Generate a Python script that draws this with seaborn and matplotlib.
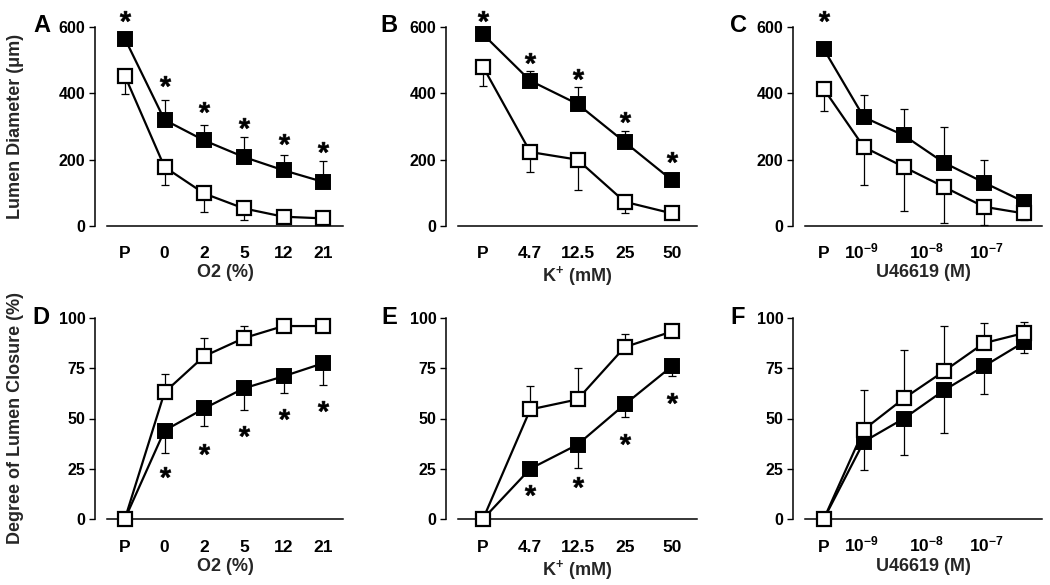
import numpy as np
import pandas as pd
import matplotlib
matplotlib.use("Agg")
import matplotlib.pyplot as plt
import matplotlib.transforms as mtransforms
import seaborn as sns

# ---------------- data ----------------
o2_labels = ["P", "0", "2", "5", "12", "21"]
k_labels = ["P", "4.7", "12.5", "25", "50"]
u_labels = ["P", r"$\mathbf{10^{-9}}$", r"$\mathbf{10^{-8}}$", r"$\mathbf{10^{-7}}$"]
u_label_pos = [0, 0.93, 2.57, 4.07]

# Lumen diameter (um)
a_filled = [565, 320, 258, 208, 168, 133]
a_filled_err = [10, 60, 47, 60, 45, 62]
a_open = [453, 178, 98, 53, 28, 23]
a_open_err = [55, 53, 55, 35, 10, 5]
a_stars = [633, 438, 358, 310, 263, 238]

b_filled = [578, 438, 368, 253, 138]
b_filled_err = [10, 28, 52, 33, 10]
b_open = [480, 223, 200, 73, 38]
b_open_err = [57, 60, 90, 35, 8]
b_stars = [633, 506, 458, 330, 208]

c_filled = [533, 328, 273, 191, 131, 73]
c_filled_err = [10, 67, 80, 109, 69, 10]
c_open = [413, 238, 178, 118, 58, 38]
c_open_err = [67, 115, 132, 108, 55, 20]
c_stars = [633]

# Degree of lumen closure (%)
d_open = [0, 63, 81, 90, 96, 96]
d_open_err = [0, 9, 9, 6, 1, 1]
d_filled = [0, 44, 55, 65, 71, 77.5]
d_filled_err = [0, 11, 8.5, 11, 8.5, 11]
d_stars = [None, 23.5, 35, 44, 52, 56]

e_open = [0, 54.5, 59.5, 85.5, 93.3]
e_open_err = [0, 11.5, 15.5, 6.3, 1]
e_filled = [0, 25, 37, 57, 76]
e_filled_err = [0, 2, 11.5, 6.5, 5]
e_stars = [None, 14.4, 18.6, 40, 60.4]

f_open = [0, 44.5, 60, 73.5, 87.5, 92.5]
f_open_err = [0, 19.5, 24, 22.5, 10, 5.5]
f_filled = [0, 38.5, 50, 64, 76, 88]
f_filled_err = [0, 14, 18, 21, 14, 5.5]

# ---------------- style ----------------
sns.set_style("ticks")
plt.rcParams["font.family"] = ["Liberation Sans", "DejaVu Sans"]
plt.rcParams["font.weight"] = "bold"
plt.rcParams["mathtext.fontset"] = "custom"
plt.rcParams["mathtext.rm"] = "Liberation Sans:bold"
plt.rcParams["mathtext.bf"] = "Liberation Sans:bold"
plt.rcParams["mathtext.it"] = "Liberation Sans:bold"

W, H = 1050, 585
fig = plt.figure(figsize=(W / 100, H / 100), dpi=100)


def make_ax(left, right, top, bottom):
    return fig.add_axes([left / W, 1 - bottom / H, (right - left) / W, (bottom - top) / H])


def draw(ax, ticklabels, filled, filled_err, opn, open_err, stars, ylim, yticks,
         xlim, up_filled, tickpos=None, xlabel="", ylabel=None):
    n = len(filled)
    x = np.arange(n)
    if up_filled:
        f_err = [np.zeros(n), filled_err]
        o_err = [open_err, np.zeros(n)]
    else:
        f_err = [filled_err, np.zeros(n)]
        o_err = [np.zeros(n), open_err]
    ax.errorbar(x, filled, yerr=f_err, fmt="none", ecolor="black", elinewidth=0.9,
                capsize=3.2, capthick=0.9, zorder=2, clip_on=False)
    ax.errorbar(x, opn, yerr=o_err, fmt="none", ecolor="black", elinewidth=0.9,
                capsize=3.2, capthick=0.9, zorder=4, clip_on=False)
    df_f = pd.DataFrame({"x": x, "y": filled})
    df_o = pd.DataFrame({"x": x, "y": opn})
    sns.lineplot(data=df_f, x="x", y="y", ax=ax, color="black", linewidth=1.6,
                 marker="s", markersize=10, markerfacecolor="black",
                 markeredgecolor="black", markeredgewidth=1.4, zorder=3, clip_on=False)
    sns.lineplot(data=df_o, x="x", y="y", ax=ax, color="black", linewidth=1.6,
                 marker="s", markersize=10, markerfacecolor="white",
                 markeredgecolor="black", markeredgewidth=1.6, zorder=5, clip_on=False)
    if stars:
        sx = [i for i, s in enumerate(stars) if s is not None]
        sy = [s for s in stars if s is not None]
        ax.plot(sx, sy, linestyle="none", marker=r"$\mathbf{*}$", markersize=8,
                color="black", markeredgewidth=0.4, clip_on=False, zorder=6)
    ax.set_xlim(*xlim)
    ax.set_ylim(*ylim)
    ax.set_yticks(yticks)
    ax.set_yticklabels([str(t) for t in yticks])
    if tickpos is None:
        tickpos = list(range(len(ticklabels)))
    ax.set_xticks([])
    trans = mtransforms.blended_transform_factory(ax.transData, ax.transAxes)
    for pos, lab in zip(tickpos, ticklabels):
        ax.text(pos, -0.162, lab, transform=trans, ha="center", va="baseline",
                fontsize=12.5, fontweight="bold", color="black")
    sns.despine(ax=ax)
    ax.spines["left"].set_position(("outward", 8.6))
    for s in ("left", "bottom"):
        ax.spines[s].set_linewidth(1.1)
        ax.spines[s].set_color("black")
    ax.tick_params(axis="y", length=4, width=1.0, pad=3, labelsize=11.5, colors="black")
    for lab in ax.get_yticklabels():
        lab.set_fontweight("bold")
    ax.set_xlabel(xlabel, fontsize=13, fontweight="bold")
    ax.xaxis.set_label_coords(0.5, -0.192)
    if ylabel:
        ax.set_ylabel(ylabel, fontsize=13, fontweight="bold")
        ax.yaxis.set_label_coords(-0.35, 0.5)
    else:
        ax.set_ylabel("")
    ax.grid(False)
    ax.set_facecolor("white")


cols = [(107, 343), (458, 697), (805, 1042)]
top_row = (27, 226)
bot_row = (318, 519)
lumen_ticks = [0, 200, 400, 600]
closure_ticks = [0, 25, 50, 75, 100]

axA = make_ax(cols[0][0], cols[0][1], *top_row)
draw(axA, o2_labels, a_filled, a_filled_err, a_open, a_open_err, a_stars,
     (0, 600), lumen_ticks, (-0.45, 5.5), True, xlabel="O2 (%)",
     ylabel="Lumen Diameter (\u03bcm)")
axB = make_ax(cols[1][0], cols[1][1], *top_row)
draw(axB, k_labels, b_filled, b_filled_err, b_open, b_open_err, b_stars,
     (0, 600), lumen_ticks, (-0.53, 4.53), True, xlabel=r"$\mathbf{K^{+}}$ (mM)")
axC = make_ax(cols[2][0], cols[2][1], *top_row)
draw(axC, u_labels, c_filled, c_filled_err, c_open, c_open_err, c_stars,
     (0, 600), lumen_ticks, (-0.47, 5.45), True, tickpos=u_label_pos,
     xlabel="U46619 (M)")

axD = make_ax(cols[0][0], cols[0][1], *bot_row)
draw(axD, o2_labels, d_filled, d_filled_err, d_open, d_open_err, d_stars,
     (0, 100), closure_ticks, (-0.45, 5.5), False, xlabel="O2 (%)",
     ylabel="Degree of Lumen Closure (%)")
axE = make_ax(cols[1][0], cols[1][1], *bot_row)
draw(axE, k_labels, e_filled, e_filled_err, e_open, e_open_err, e_stars,
     (0, 100), closure_ticks, (-0.53, 4.53), False, xlabel=r"$\mathbf{K^{+}}$ (mM)")
axF = make_ax(cols[2][0], cols[2][1], *bot_row)
draw(axF, u_labels, f_filled, f_filled_err, f_open, f_open_err, None,
     (0, 100), closure_ticks, (-0.47, 5.45), False, tickpos=u_label_pos,
     xlabel="U46619 (M)")

# panel letters
letters = [("A", 50, 26), ("B", 397, 26), ("C", 747, 26),
           ("D", 50, 318), ("E", 397, 318), ("F", 745, 318)]
for t, px, py in letters:
    fig.text(px / W, 1 - py / H, t, ha="right", va="center", fontsize=17,
             fontweight="bold", color="black")

fig.savefig("out.png", dpi=100, facecolor="white")
